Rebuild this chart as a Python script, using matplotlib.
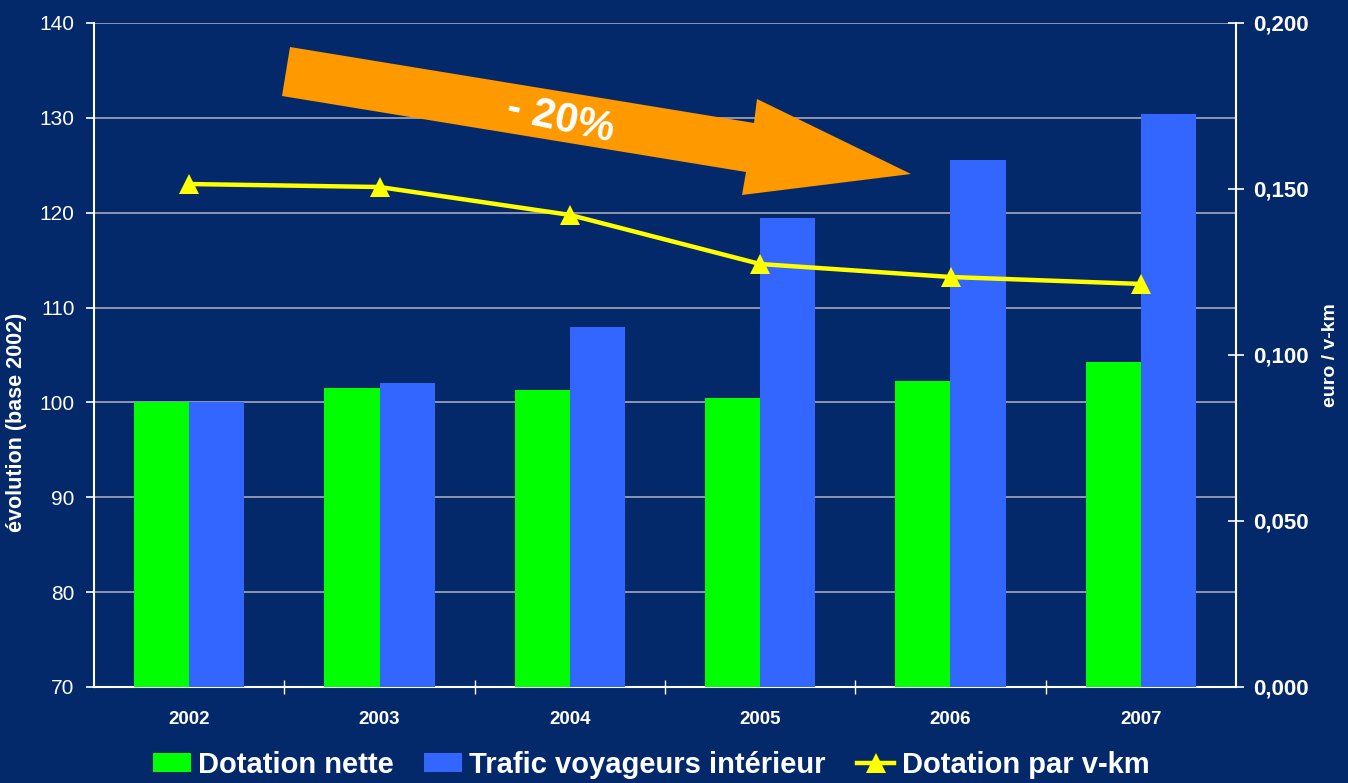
import matplotlib.pyplot as plt
import numpy as np
from matplotlib.patches import Polygon
from matplotlib.ticker import FuncFormatter, FixedLocator

years = ["2002", "2003", "2004", "2005", "2006", "2007"]
dotation_nette = [100.0, 101.5, 101.3, 100.5, 102.3, 104.3]
trafic = [100.0, 102.1, 108.0, 119.4, 125.6, 130.4]
dotation_vkm = [0.1515, 0.1506, 0.1422, 0.1274, 0.1235, 0.1214]

bg = "#04296B"
green = "#00FF00"
blue = "#3366FF"
yellow = "#FFFF00"
orange = "#FF9900"

plt.rcParams["font.family"] = ["Liberation Sans", "DejaVu Sans"]

W, H = 1348, 783
fig = plt.figure(figsize=(W / 100, H / 100), dpi=100, facecolor=bg)
ax = fig.add_axes([94 / W, 1 - 687 / H, (1236 - 94) / W, (687 - 23) / H])
ax.set_facecolor(bg)

x = np.arange(len(years))
w = 0.29
b1 = ax.bar(x - w / 2, dotation_nette, w, color=green, zorder=3, label="Dotation nette")
b2 = ax.bar(x + w / 2, trafic, w, color=blue, zorder=3, label="Trafic voyageurs intérieur")

ax.set_ylim(70, 140)
ax.set_xlim(-0.5, len(years) - 0.5)
ax.set_yticks(np.arange(70, 141, 10))
ax.yaxis.grid(True, color="#A8A8B8", linewidth=1.2, zorder=0)
ax.set_axisbelow(True)

ax.set_xticks(x)
ax.set_xticklabels(years, fontsize=13.5, fontweight="bold", color="white")
ax.tick_params(axis="x", which="major", length=0, pad=17)
ax.xaxis.set_minor_locator(FixedLocator(x[:-1] + 0.5))
ax.tick_params(axis="x", which="minor", direction="inout", length=10, color="white", width=1)
ax.tick_params(axis="y", direction="out", length=6, color="white", width=1.2,
               labelsize=15, labelcolor="white", pad=8)

for s in ["left", "bottom", "right"]:
    ax.spines[s].set_color("white")
    ax.spines[s].set_linewidth(1.5)
ax.spines["top"].set_visible(False)

ax.set_ylabel("évolution (base 2002)", fontsize=15.5, fontweight="bold", color="white")
ax.yaxis.set_label_coords(-0.0587, 0.398)

ax2 = ax.twinx()
ax2.set_ylim(0, 0.2)
ax2.set_yticks(np.arange(0, 0.201, 0.05))
ax2.yaxis.set_major_formatter(FuncFormatter(lambda v, p: f"{v:.3f}".replace(".", ",")))
ax2.tick_params(axis="y", direction="inout", length=11, color="white", width=1.2,
                labelsize=16, labelcolor="white", pad=7)
for lbl in ax2.get_yticklabels():
    lbl.set_fontweight("bold")
for s in ax2.spines.values():
    s.set_visible(False)
ax2.set_ylabel("euro / v-km", fontsize=14, fontweight="bold", color="white")
ax2.yaxis.set_label_coords(1.0753, 0.5)

ln, = ax2.plot(x, dotation_vkm, color=yellow, linewidth=3.2, marker="^",
               markersize=14, markeredgewidth=0, label="Dotation par v-km", zorder=4)

# orange arrow with the -20% label
pts = [(290, 47), (754, 123), (757, 99), (911, 174), (742, 195), (746, 172), (282, 96)]
arrow = Polygon([(px / W, 1 - py / H) for px, py in pts], closed=True,
                transform=fig.transFigure, facecolor=orange, edgecolor="none", zorder=5)
fig.add_artist(arrow)
fig.text(560 / W, 1 - 120 / H, "- 20%", fontsize=30, fontweight="bold",
         color="white", rotation=-12, ha="center", va="center", zorder=6)

fig.legend(handles=[b1, b2, ln], loc="center", bbox_to_anchor=(651 / W, 1 - 765 / H),
           ncol=3, frameon=False, handlelength=1.3, handleheight=0.62, handletextpad=0.25,
           columnspacing=1.05, labelcolor="white", prop={"weight": "bold", "size": 21})

fig.savefig("out.png", dpi=100, facecolor=bg)
